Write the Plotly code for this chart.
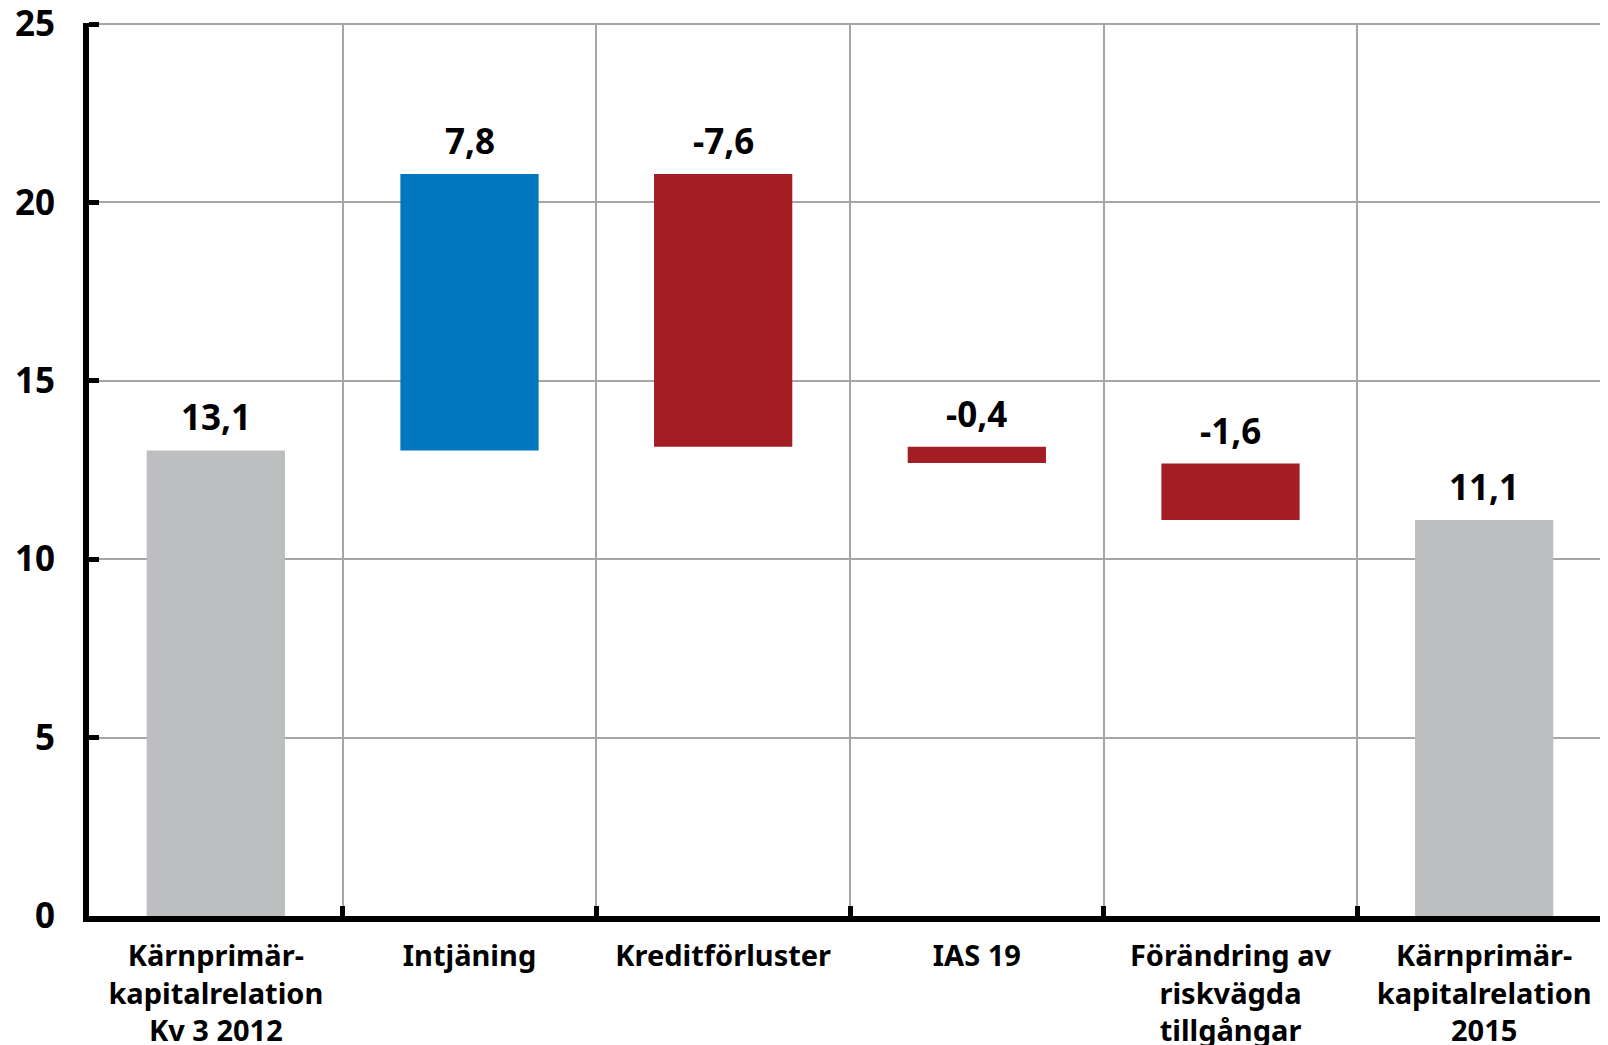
import plotly.graph_objects as go

# --- data ---
categories = [
    "Kärnprimär-<br>kapitalrelation<br>Kv 3 2012",
    "Intjäning",
    "Kreditförluster",
    "IAS 19",
    "Förändring av<br>riskvägda<br>tillgångar",
    "Kärnprimär-<br>kapitalrelation<br>2015",
]
values = [13.1, 7.8, -7.6, -0.4, -1.6, 11.1]
bar_bottom = [0.0, 13.05, 13.15, 12.7, 11.1, 0.0]
bar_top = [13.05, 20.8, 20.8, 13.15, 12.68, 11.1]
y_ticks = [0, 5, 10, 15, 20, 25]

GREY = "#BDBEC0"
BLUE = "#0077BE"
RED = "#A31D24"
bar_colors = [GREY, BLUE, RED, RED, RED, GREY]

FONT = "Noto Sans"

fig = go.Figure()
fig.add_trace(go.Bar(
    x=categories,
    y=[t - b for t, b in zip(bar_top, bar_bottom)],
    base=bar_bottom,
    marker=dict(color=bar_colors, line=dict(width=0)),
    width=0.545,
    hoverinfo="skip",
))

# value labels above each bar
for cat, val, top in zip(categories, values, bar_top):
    fig.add_annotation(
        x=cat, y=top, text=f"{val:.1f}".replace(".", ","),
        showarrow=False, yanchor="bottom", yshift=8,
        font=dict(family=FONT, size=35, color="black", weight="bold"),
    )

# the page body has an 8px margin, so margins are offset to compensate
fig.update_layout(
    width=1608, height=1045,
    margin=dict(l=81, r=5, t=15, b=137),
    paper_bgcolor="white", plot_bgcolor="white",
    showlegend=False,
)

fig.update_xaxes(
    type="category",
    tickson="boundaries",
    automargin=False,
    showgrid=True, gridcolor="#A6A6A6", gridwidth=1.5,
    showline=True, linecolor="black", linewidth=6,
    ticks="inside", ticklen=10, tickwidth=5, tickcolor="black",
    tickfont=dict(family=FONT, size=29, color="black", weight="bold"),
    ticklabelstandoff=9,
)
fig.update_yaxes(
    range=[0, 25.03], tickvals=y_ticks,
    automargin=False,
    ticklabeloverflow="allow",
    showgrid=True, gridcolor="#A6A6A6", gridwidth=1.5,
    zeroline=False,
    showline=True, linecolor="black", linewidth=6,
    ticks="inside", ticklen=10, tickwidth=5, tickcolor="black",
    tickfont=dict(family=FONT, size=35, color="black", weight="bold"),
    ticklabelstandoff=21,
)

fig.write_html("out.html")
